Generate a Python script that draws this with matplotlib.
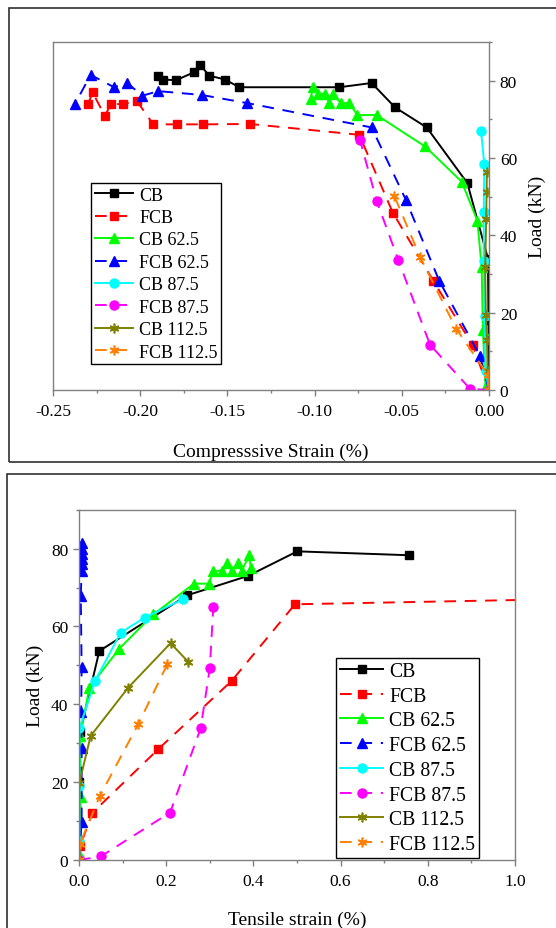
import matplotlib
matplotlib.use("Agg")
import matplotlib.pyplot as plt
from matplotlib.patches import Rectangle
from matplotlib.ticker import MultipleLocator, FormatStrFormatter

plt.rcParams["font.family"] = ["Liberation Serif", "DejaVu Serif"]
plt.rcParams["axes.unicode_minus"] = False

labels = ["CB", "FCB", "CB 62.5", "FCB 62.5", "CB 87.5", "FCB 87.5", "CB 112.5", "FCB 112.5"]
colors = ["black", "#FF0000", "#00FF00", "#0000FF", "#00FFFF", "#FF00FF", "#808000", "#FF8000"]
markers = ["s", "s", "^", "^", "o", "o", (6, 2, 0), (6, 2, 0)]
solid = [True, False, True, False, True, False, True, False]

# compressive strain (%) vs load (kN)
comp_x = [
    [0.0, -0.0003, -0.0006, -0.0124, -0.0357, -0.0539, -0.0673, -0.0858, -0.1432, -0.1514,
     -0.1604, -0.1657, -0.169, -0.1795, -0.1867, -0.1896],
    [0.0, -0.0094, -0.0319, -0.0552, -0.0744, -0.137, -0.1638, -0.1791, -0.1925, -0.202,
     -0.21, -0.2169, -0.2202, -0.2273, -0.2298],
    [0.0, -0.002, -0.0035, -0.0042, -0.0067, -0.0157, -0.0367, -0.0644, -0.0755, -0.0801,
     -0.085, -0.0896, -0.0916, -0.094, -0.0979, -0.1011, -0.1022],
    [0.0, -0.0052, -0.0285, -0.0476, -0.0673, -0.1386, -0.1647, -0.1896, -0.1988, -0.2074,
     -0.215, -0.2284, -0.2374],
    [0.0, -0.002, -0.0025, -0.003, -0.003, -0.0027, -0.0046],
    [0.0, -0.0109, -0.0338, -0.052, -0.0644, -0.074],
    [0.0, -0.0008, -0.0012, -0.0018, -0.0022, -0.0016, -0.0014, -0.0012],
    [0.0, -0.0008, -0.0189, -0.0396, -0.0543],
]
comp_y = [
    [0, 18, 34, 53.5, 67.9, 73.1, 79.4, 78.3, 78.3, 80.3, 81.3, 84.1, 82.2, 80.1, 80.3, 81.1],
    [0, 11.6, 28.2, 45.9, 66.0, 68.8, 68.7, 68.7, 68.7, 74.8, 73.9, 74.0, 70.8, 77.0, 74.0],
    [0, 1, 15.5, 31.7, 43.8, 53.9, 63.0, 71.1, 71.1, 74.2, 74.2, 76.6, 74.2, 76.6, 76.6, 78.3, 75.3],
    [0, 8.8, 28.2, 49.1, 67.9, 74.2, 76.3, 77.3, 76.1, 79.4, 78.3, 81.5, 74.0],
    [0, 5, 19.2, 33.4, 46.1, 58.4, 67.1],
    [0, 0.3, 11.7, 33.6, 48.9, 64.7],
    [0, 5, 13, 19.5, 31.7, 44.2, 51.1, 56.4],
    [0, 4, 15.9, 34.5, 50.2],
]

# tensile strain (%) vs load (kN)
tens_x = [
    [0.0, 0.001, 0.003, 0.0466, 0.248, 0.388, 0.5007, 0.757],
    [0.0, 0.003, 0.0306, 0.182, 0.35, 0.4954, 1.1],
    [0.0, 0.002, 0.004, 0.003, 0.0237, 0.0917, 0.1705, 0.2638, 0.2989, 0.3066, 0.327, 0.3387,
     0.35, 0.3654, 0.373, 0.3906, 0.3937],
    [0.0, 0.006, 0.006, 0.005, 0.006, 0.004, 0.006, 0.006, 0.006, 0.006, 0.006, 0.006],
    [0.0, 0.001, 0.001, 0.0007, 0.0367, 0.0956, 0.151, 0.239],
    [0.0, 0.0497, 0.209, 0.279, 0.3, 0.308],
    [0.0, 0.0007, 0.0268, 0.113, 0.21, 0.2507],
    [0.0, 0.002, 0.048, 0.136, 0.2026],
]
tens_y = [
    [0, 20, 33, 53.7, 68.0, 73.0, 79.3, 78.3],
    [0, 3.7, 12.1, 28.5, 46.0, 65.7, 67.0],
    [0, 1, 16.1, 31.9, 44.3, 54.2, 63.1, 71.0, 71.0, 74.3, 74.3, 76.2, 74.3, 76.2, 74.3, 78.3, 75.1],
    [0, 9.7, 28.9, 38.0, 49.5, 67.8, 74.3, 76.0, 77.3, 78.5, 80.0, 81.5],
    [0, 5, 19.1, 33.8, 46.0, 58.4, 62.3, 67.0],
    [0, 0.9, 12.2, 33.8, 49.3, 64.9],
    [0, 19.8, 31.9, 44.3, 55.7, 50.9],
    [0, 4.1, 16.5, 34.9, 50.3],
]

W, H = 556, 929
fig = plt.figure(figsize=(W / 100, H / 100), dpi=100)


def px_rect(x0, y0, x1, y1):
    return [x0 / W, 1 - y1 / H, (x1 - x0) / W, (y1 - y0) / H]


# panel frames
for x0, y0, x1, y1 in [(8.5, 8.5, 600, 463), (7, 475, 600, 1000)]:
    r = px_rect(x0, y0, x1, y1)
    fig.add_artist(Rectangle((r[0], r[1]), r[2], r[3], transform=fig.transFigure,
                             fill=False, edgecolor="#303030", linewidth=1.2))

ax1 = fig.add_axes(px_rect(53, 43, 489, 391))
ax2 = fig.add_axes(px_rect(79, 510.7, 515, 861))


def draw(ax, xs, ys):
    for i in range(8):
        ms = 5.5 if markers[i] == "s" else 6.5
        if markers[i] == (6, 2, 0):
            ms = 7
        ls = "-" if solid[i] else (0, (6, 4.5))
        ax.plot(xs[i], ys[i], color=colors[i], marker=markers[i], markersize=ms,
                markeredgecolor=colors[i], markeredgewidth=1.0 if i < 6 else 1.2,
                linewidth=1.4, linestyle=ls, label=labels[i])


draw(ax1, comp_x, comp_y)
draw(ax2, tens_x, tens_y)

grey = "#808080"
for ax in (ax1, ax2):
    for s in ax.spines.values():
        s.set_color(grey)
        s.set_linewidth(1.0)
    ax.set_ylim(0, 90)
    ax.yaxis.set_major_locator(MultipleLocator(20))
    ax.yaxis.set_minor_locator(MultipleLocator(10))
    ax.tick_params(which="both", direction="out", color=grey, width=1.0, labelsize=12.5)
    ax.tick_params(which="major", length=4.3)
    ax.tick_params(which="minor", length=2.5)
    ax.tick_params(axis="x", pad=5)
    ax.tick_params(axis="y", pad=3.5)

ax1.set_xlim(-0.25, 0.0)
ax1.xaxis.set_major_locator(MultipleLocator(0.05))
ax1.xaxis.set_minor_locator(MultipleLocator(0.025))
ax1.xaxis.set_major_formatter(FormatStrFormatter("%.2f"))
ax1.yaxis.tick_right()
ax1.yaxis.set_label_position("right")
ax1.set_xlabel("Compresssive Strain (%)", fontsize=14, va="center")
ax1.set_ylabel("Load (kN)", fontsize=14, va="center", rotation=90)
ax1.xaxis.set_label_coords(0.5, -0.175)
ax1.yaxis.set_label_coords(1.110, 0.5)

ax2.set_xlim(0, 1.0)
ax2.xaxis.set_major_locator(MultipleLocator(0.2))
ax2.xaxis.set_minor_locator(MultipleLocator(0.1))
ax2.xaxis.set_major_formatter(FormatStrFormatter("%.1f"))
ax2.set_xlabel("Tensile strain (%)", fontsize=14, va="center")
ax2.set_ylabel("Load (kN)", fontsize=14, va="center")
ax2.xaxis.set_label_coords(0.5, -0.168)
ax2.yaxis.set_label_coords(-0.101, 0.5)

leg1 = ax1.legend(loc="upper left", bbox_to_anchor=(91 / W, 1 - 184 / H),
                  bbox_transform=fig.transFigure, borderaxespad=0, fontsize=13,
                  numpoints=1, handlelength=2.1, handletextpad=0.37, labelspacing=0.3,
                  borderpad=0.2, fancybox=False, framealpha=1)
leg1.get_frame().set_edgecolor("black")
leg1.get_frame().set_linewidth(1.0)

leg2 = ax2.legend(loc="upper left", bbox_to_anchor=(336 / W, 1 - 659 / H),
                  bbox_transform=fig.transFigure, borderaxespad=0, fontsize=14.2,
                  numpoints=1, handlelength=2.2, handletextpad=0.29, labelspacing=0.29,
                  borderpad=0.2, fancybox=False, framealpha=1)
leg2.get_frame().set_edgecolor("black")
leg2.get_frame().set_linewidth(1.0)

fig.savefig("out.png", dpi=100)
